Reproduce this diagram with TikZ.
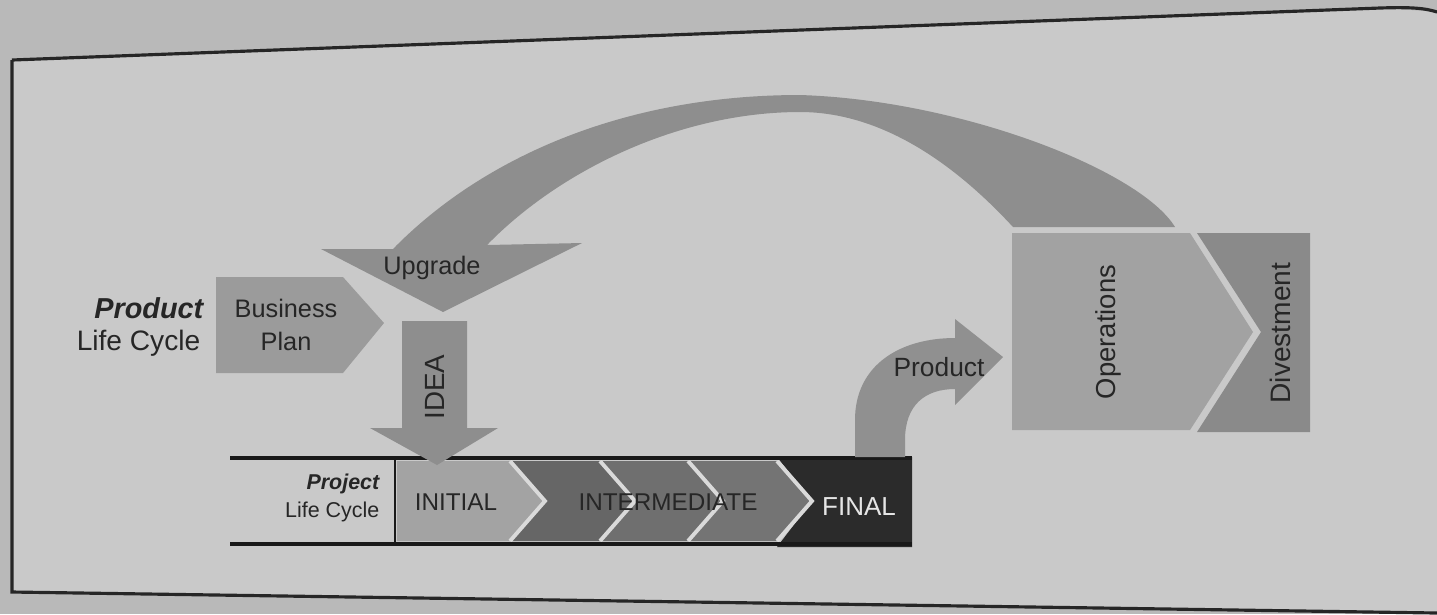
\documentclass[tikz,border=0pt]{standalone}
\usepackage{fontspec}
\setmainfont{Liberation Sans}
\definecolor{pagebg}{HTML}{B9B9B9}
\definecolor{framebg}{HTML}{C9C9C9}
\definecolor{arrowgray}{HTML}{8E8E8E}
\definecolor{bpgray}{HTML}{9B9B9B}
\definecolor{opgray}{HTML}{A2A2A2}
\definecolor{divgray}{HTML}{8A8A8A}
\definecolor{initgray}{HTML}{A3A3A3}
\definecolor{midA}{HTML}{666666}
\definecolor{midB}{HTML}{6F6F6F}
\definecolor{midC}{HTML}{747474}
\definecolor{finalblack}{HTML}{2B2B2B}
\definecolor{sepwhite}{HTML}{DADADA}
\definecolor{inktext}{HTML}{262626}
\begin{document}
\begin{tikzpicture}[x=0.01cm,y=-0.01cm,
  lbl/.style={font=\fontsize{7.2}{8}\selectfont, inner sep=0pt, text=inktext},
  biglbl/.style={font=\fontsize{8}{9}\selectfont, inner sep=0pt, text=inktext},
  smalllbl/.style={font=\fontsize{6.1}{7}\selectfont, inner sep=0pt, text=inktext},
  sep/.style={draw=sepwhite, line width=1.1pt},
  barline/.style={draw=black!90, line width=1.4pt},
  framelne/.style={draw=black!85, line width=0.9pt}]
\useasboundingbox (0,0) rectangle (1437,614);
% page and frame
\fill[pagebg] (0,0) rectangle (1437,614);
\fill[framebg] (12,60) -- (1380,8) -- (1437,12) -- (1437,613) -- (12,592) -- cycle;
\draw[framelne] (12,60) -- (1380,8) .. controls (1410,7) and (1425,8) .. (1437,12);
\draw[framelne] (12,60) -- (12,592) -- (1100,608) -- (1437,613);

% Upgrade curved arrow
\fill[arrowgray] (393,249) .. controls (480,160) and (620,95) .. (800,95)
  .. controls (960,100) and (1140,170) .. (1175,227)
  -- (1013,227) .. controls (965,175) and (890,112) .. (800,112)
  .. controls (680,112) and (560,170) .. (487,245)
  -- (582,243) -- (443,312) -- (321,249) -- cycle;
\node[lbl] (upgrade) at (432,268) {Upgrade};

% Business plan
\fill[bpgray] (216,277) -- (343,277) -- (384,323) -- (343,373) -- (216,373) -- cycle;
\node[lbl, align=center, font=\fontsize{7.2}{9.2}\selectfont] (bp) at (286,325) {Business\\Plan};

% Product life cycle label
\node[biglbl, anchor=east, font=\fontsize{8.2}{9}\bfseries\itshape\selectfont] (plc1) at (204,308) {Product};
\node[biglbl, anchor=east] (plc2) at (201,343) {Life Cycle};

% Project bar chevrons
\fill[initgray] (397,461) -- (510,461) -- (545,501) -- (510,541) -- (397,541) -- cycle;
\fill[midA] (510,461) -- (600,461) -- (635,501) -- (600,541) -- (510,541) -- (545,501) -- cycle;
\fill[midB] (600,461) -- (688,461) -- (723,501) -- (688,541) -- (600,541) -- (635,501) -- cycle;
\fill[midC] (688,461) -- (777,461) -- (812,501) -- (777,541) -- (688,541) -- (723,501) -- cycle;
\fill[finalblack] (777,457) -- (912,457) -- (912,547) -- (777,547) -- (812,501) -- cycle;
\draw[sep] (510,461) -- (545,501) -- (510,541);
\draw[sep] (600,461) -- (635,501) -- (600,541);
\draw[sep] (688,461) -- (723,501) -- (688,541);
\draw[sep] (777,461) -- (812,501) -- (777,541);
\draw[barline] (230,458) -- (912,458);
\draw[barline] (230,544) -- (912,544);
\draw[draw=black!90, line width=0.7pt] (395,458) -- (395,544);

\node[smalllbl, anchor=east, font=\fontsize{6.1}{7}\bfseries\itshape\selectfont] (proj1) at (380,484) {Project};
\node[smalllbl, anchor=east] (proj2) at (380,512) {Life Cycle};
\node[lbl, font=\fontsize{6.9}{8}\selectfont] (initial) at (456,502) {INITIAL};
\node[lbl, font=\fontsize{6.9}{8}\selectfont] (interm) at (668,502) {INTERMEDIATE};
\node[lbl, font=\fontsize{7.4}{8}\selectfont, text=white!90!black] (final) at (859,507) {FINAL};

% IDEA arrow
\fill[arrowgray] (402,321) -- (467,321) -- (467,428) -- (498,428) -- (437,465)
  -- (370,428) -- (402,428) -- cycle;
\node[lbl, rotate=90, font=\fontsize{7.9}{9}\selectfont] (idea) at (435,387) {IDEA};

% Product curved arrow
\fill[arrowgray!98!white] (855,457) -- (855,420) .. controls (855,365) and (900,338) .. (955,338)
  -- (955,319) -- (1003,357) -- (955,405) -- (955,389)
  .. controls (925,389) and (905,405) .. (905,440) -- (905,457) -- cycle;
\node[lbl, font=\fontsize{7.5}{8}\selectfont] (product) at (939,367) {Product};

% Operations and Divestment
\fill[opgray] (1012,233) -- (1190,233) -- (1253,332) -- (1190,430) -- (1012,430) -- cycle;
\fill[divgray] (1197,233) -- (1310,233) -- (1310,432) -- (1197,432) -- (1261,332) -- cycle;
\node[lbl, rotate=90, font=\fontsize{7.8}{9}\selectfont] (ops) at (1108,332) {Operations};
\node[lbl, rotate=90, font=\fontsize{8}{9}\selectfont] (div) at (1280,333) {Divestment};
\end{tikzpicture}
\end{document}
